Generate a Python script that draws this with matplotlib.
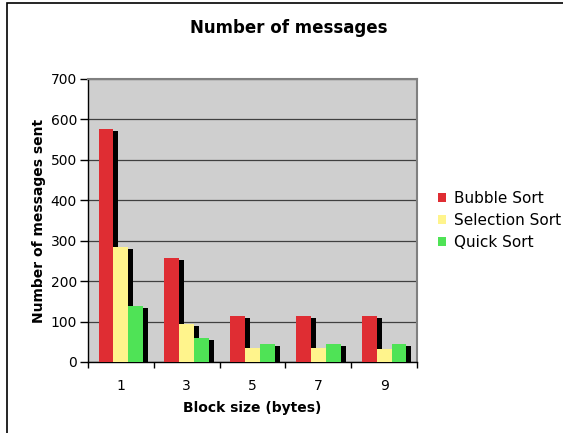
import matplotlib
matplotlib.use('Agg')
import matplotlib.pyplot as plt
import matplotlib.patheffects as pe
from matplotlib.patches import Rectangle, Patch
import numpy as np

plt.rcParams['font.family'] = ['DejaVu Sans']

# messages sent per algorithm for each block size
block_sizes = ['1', '3', '5', '7', '9']
bubble_sort = [576, 257, 114, 114, 114]
selection_sort = [285, 94, 35, 35, 33]
quick_sort = [139, 59, 45, 45, 45]

series = [
    ('Bubble Sort', bubble_sort, '#df2d33'),
    ('Selection Sort', selection_sort, '#fff48c'),
    ('Quick Sort', quick_sort, '#4fe356'),
]

fig = plt.figure(figsize=(5.63, 4.33), dpi=100)
ax = fig.add_axes([0.1563, 0.164, 0.5844, 0.6536])
ax.set_facecolor('#cfcfcf')

x = np.arange(len(block_sizes))
w = 0.225
shadow = [pe.SimplePatchShadow(offset=(3.6, -1.5), shadow_rgbFace='black', alpha=1.0), pe.Normal()]
handles = []
for i, (name, vals, col) in enumerate(series):
    bars = ax.bar(x + (i - 1) * w, vals, w, color=col, zorder=3)
    for b in bars:
        b.set_path_effects(shadow)
    handles.append(Patch(facecolor=col, label=name))

ax.set_xlim(-0.5, len(block_sizes) - 0.5)
ax.set_ylim(0, 700)
ax.set_yticks(range(0, 701, 100))
ax.yaxis.grid(True, color='#404040', lw=0.9, zorder=1)
ax.set_axisbelow(True)

# category labels centred, tick marks between the groups
ax.set_xticks(x)
ax.set_xticklabels(block_sizes)
ax.set_xticks(np.arange(-0.5, len(block_sizes)), minor=True)
ax.tick_params(axis='x', which='major', length=0, pad=12, labelsize=10)
ax.tick_params(axis='x', which='minor', length=4, width=1, direction='out')
ax.tick_params(axis='y', length=6, width=1, labelsize=10, pad=2)

for s in ['left', 'bottom']:
    ax.spines[s].set_color('black')
    ax.spines[s].set_linewidth(1.0)
for s in ['top', 'right']:
    ax.spines[s].set_color('#808080')
    ax.spines[s].set_linewidth(1.5)

ax.set_xlabel('Block size (bytes)', fontsize=10, fontweight='bold', labelpad=6)
ax.set_ylabel('Number of messages sent', fontsize=10, fontweight='bold', labelpad=3)
fig.text(0.512, 0.935, 'Number of messages', ha='center', va='center',
         fontsize=12, fontweight='bold')

ax.legend(handles=handles, loc='center left', bbox_to_anchor=(1.045, 0.5), frameon=False,
          fontsize=11, handlelength=0.55, handleheight=0.55, handletextpad=0.5,
          labelspacing=0.45, borderaxespad=0)

# chart frame
fig.add_artist(Rectangle((7.5 / 563, -0.1), 2, 1.1 - 2.5 / 433, transform=fig.transFigure,
                         fill=False, ec='black', lw=1.2))

fig.savefig('out.png', dpi=100)
